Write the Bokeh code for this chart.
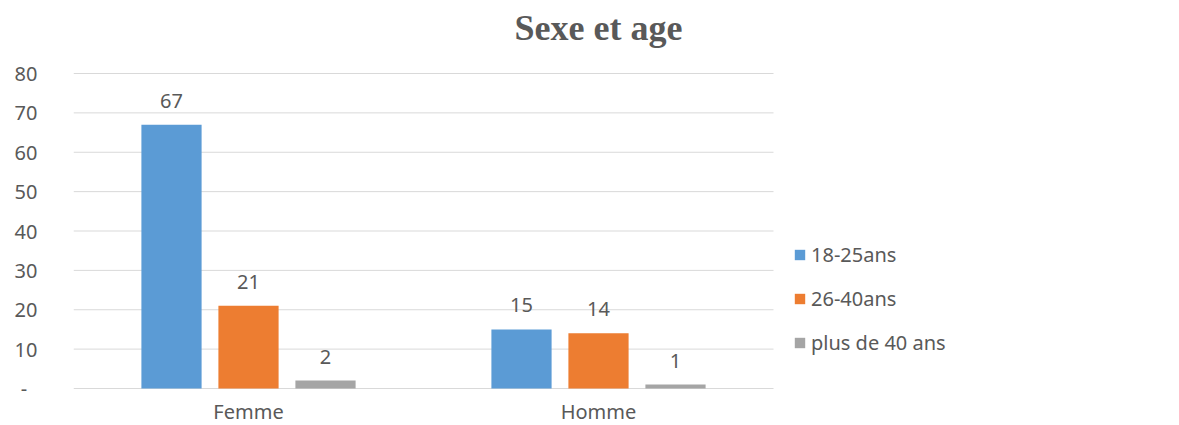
from bokeh.plotting import figure
from bokeh.models import (ColumnDataSource, FixedTicker, LabelSet, Legend, LegendItem, Range1d)
from bokeh.core.properties import value
from bokeh.embed import file_html
from bokeh.resources import INLINE

categories = ["Femme", "Homme"]
series_names = ["18-25ans", "26-40ans", "plus de 40 ans"]
series_values = [[67, 15], [21, 14], [2, 1]]
colors = ["#5B9BD5", "#ED7D31", "#A5A5A5"]
y_ticks = [0, 10, 20, 30, 40, 50, 60, 70, 80]
title_text = "Sexe et age"

TXT = "#595959"
FONT = "Noto Sans"
FS = "20px"

# frame covers whole canvas right of the y axis; 1 data unit in x = 350 px, 1 in y = 3.9375 px
p = figure(width=1179, height=425, output_backend="svg", toolbar_location=None, title=None,
           x_range=Range1d(0, 3.16), y_range=Range1d(-9.397, 98.54), x_axis_location=None,
           min_border_left=73, min_border_right=0, min_border_top=0, min_border_bottom=0)
p.outline_line_color = None
p.background_fill_color = "white"
p.border_fill_color = "white"

# horizontal gridlines spanning only the category area
p.segment(x0=0, x1=len(categories), y0=y_ticks, y1=y_ticks, line_color="#D9D9D9",
          line_width=1, level="underlay")

offsets = [-0.22, 0.0, 0.22]
bar_w = 0.172
items = []
for i, (name, vals) in enumerate(zip(series_names, series_values)):
    xs = [j + 0.5 + offsets[i] for j in range(len(categories))]
    src = ColumnDataSource(dict(x=xs, top=vals, lab=[str(v) for v in vals]))
    r = p.vbar(x="x", top="top", width=bar_w, bottom=0, source=src,
               fill_color=colors[i], line_color=None)
    items.append(LegendItem(label=name, renderers=[r]))
    p.add_layout(LabelSet(x="x", y="top", text="lab", source=src, text_align="center",
                          text_baseline="middle", y_offset=24, text_font=value(FONT),
                          text_font_size=FS, text_color=TXT))

# category labels below the baseline
p.text(x=[j + 0.5 for j in range(len(categories))], y=[-5.9] * len(categories), text=categories,
       text_align="center", text_baseline="middle", text_font=value(FONT),
       text_font_size=FS, text_color=TXT)

# title
p.text(x=[1.5], y=[91.43], text=[title_text], text_align="center", text_baseline="middle",
       text_font=value("Liberation Serif"), text_font_style="bold", text_font_size="36px",
       text_color=TXT)

# y axis
p.yaxis.ticker = FixedTicker(ticks=y_ticks)
p.yaxis.major_label_overrides = {0: "-\u00a0\u00a0"}
p.yaxis.axis_line_color = None
p.yaxis.major_tick_line_color = None
p.yaxis.minor_tick_line_color = None
p.yaxis.major_label_standoff = 30
p.yaxis.major_label_text_font = FONT
p.yaxis.major_label_text_font_size = FS
p.yaxis.major_label_text_color = TXT

p.xgrid.grid_line_color = None
p.ygrid.grid_line_color = None

legend = Legend(items=items, location=(720, 69), border_line_color=None,
                background_fill_alpha=0, padding=0, margin=0,
                glyph_width=13, glyph_height=13, label_height=24, spacing=17,
                label_standoff=5, label_text_font=FONT, label_text_font_size=FS,
                label_text_color=TXT)
p.add_layout(legend, "center")

open("out.html", "w").write(file_html(p, INLINE))
